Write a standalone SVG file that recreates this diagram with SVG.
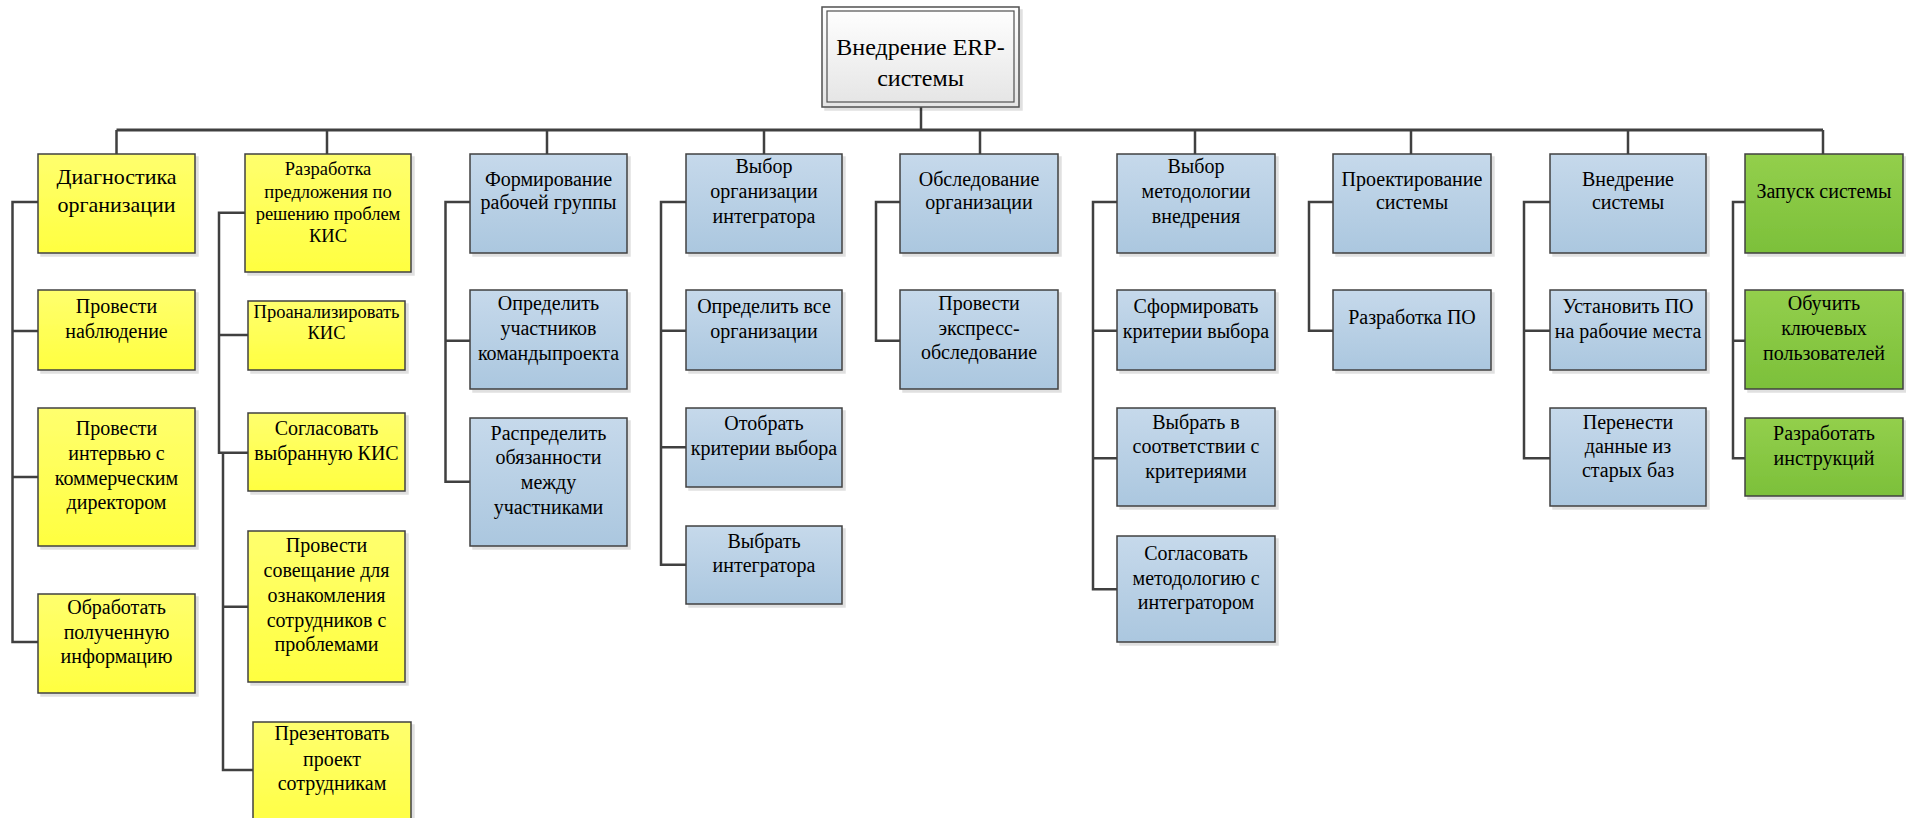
<svg xmlns="http://www.w3.org/2000/svg" width="1906" height="818" viewBox="0 0 1906 818">
<defs>
<linearGradient id="gy" x1="0" y1="0" x2="0" y2="1"><stop offset="0" stop-color="#ffff6e"/><stop offset="1" stop-color="#ffff40"/></linearGradient>
<linearGradient id="gb" x1="0" y1="0" x2="0" y2="1"><stop offset="0" stop-color="#c6d9eb"/><stop offset="1" stop-color="#abc7df"/></linearGradient>
<linearGradient id="gg" x1="0" y1="0" x2="0" y2="1"><stop offset="0" stop-color="#93cf4c"/><stop offset="1" stop-color="#7cc03a"/></linearGradient>
<linearGradient id="gw" x1="0" y1="0" x2="0" y2="1"><stop offset="0" stop-color="#ffffff"/><stop offset="1" stop-color="#e4e4e4"/></linearGradient>
<filter id="sh" x="-5%" y="-5%" width="115%" height="115%"><feOffset in="SourceAlpha" dx="3" dy="3" result="o"/><feFlood flood-color="#000" flood-opacity="0.12"/><feComposite in2="o" operator="in"/><feMerge><feMergeNode/><feMergeNode in="SourceGraphic"/></feMerge></filter>
</defs>
<style>
rect.b{stroke:#404040;stroke-width:1.5;filter:url(#sh)}
.y{fill:url(#gy)} .bl{fill:url(#gb)} .g{fill:url(#gg)}
text{font-family:"Liberation Serif","Times New Roman",serif;font-size:20px;fill:#000;text-anchor:middle}
.s{font-size:18.5px}
.l{font-size:22px}
.r{font-size:24px}
#connectors path{fill:none;stroke:#404040;stroke-width:2.5}
#connectors path.bus{stroke-width:3}
</style>
<g id="connectors">
<path class="bus" d="M116.5 130H1823"/>
<path d="M921 107V130"/>
<path d="M116.5 130V154M327 130V154M547 130V154M764 130V154M980 130V154M1195 130V154M1411 130V154M1628 130V154M1823 130V154"/>
<path d="M38 202H12.5V642H38M12.5 331H38M12.5 477H38"/>
<path d="M245 212.7H219V452.7H248M219 335H248M223 452.7V770H253M223 606.7H248"/>
<path d="M470 202H445.5V481.7H470M445.5 340.7H470"/>
<path d="M686 202H661V564.7H686M661 330.7H686M661 447.3H686"/>
<path d="M900 202H876V340.7H900"/>
<path d="M1117 202H1093V589.3H1117M1093 330.7H1117M1093 458.3H1117"/>
<path d="M1333 202H1309V330.7H1333"/>
<path d="M1550 202H1524V458.3H1550M1524 330.7H1550"/>
<path d="M1745 202H1733V458.3H1745M1733 340.7H1745"/>
</g>
<g id="root">
<rect x="822" y="7" width="197" height="100" fill="url(#gw)" stroke="#505050" stroke-width="1.5" filter="url(#sh)"/>
<rect x="827" y="11" width="187" height="91" fill="none" stroke="#505050" stroke-width="1.2"/>
<text class="r" x="920.5" y="55">Внедрение ERP-</text>
<text class="r" x="920.5" y="85.5">системы</text>
</g>
<g id="n1"><rect class="b y" x="38" y="154" width="157" height="99"/><text class="l" x="116.5" y="184">Диагностика</text><text class="l" x="116.5" y="211.5">организации</text></g>
<g id="n1a"><rect class="b y" x="38" y="290" width="157" height="80"/><text x="116.5" y="313">Провести</text><text x="116.5" y="337.5">наблюдение</text></g>
<g id="n1b"><rect class="b y" x="38" y="408" width="157" height="138"/><text x="116.5" y="435">Провести</text><text x="116.5" y="460">интервью с</text><text x="116.5" y="484.5">коммерческим</text><text x="116.5" y="509">директором</text></g>
<g id="n1c"><rect class="b y" x="38" y="594" width="157" height="99"/><text x="116.5" y="613.5">Обработать</text><text x="116.5" y="638.5">полученную</text><text x="116.5" y="663">информацию</text></g>
<g id="n2"><rect class="b y" x="245" y="154" width="166" height="118"/><text class="s" x="328" y="174.5">Разработка</text><text class="s" x="328" y="197.5">предложения по</text><text class="s" x="328" y="219.5">решению проблем</text><text class="s" x="328" y="241.5">КИС</text></g>
<g id="n2a"><rect class="b y" x="248" y="301" width="157" height="69"/><text class="s" x="326.5" y="318">Проанализировать</text><text class="s" x="326.5" y="339">КИС</text></g>
<g id="n2b"><rect class="b y" x="248" y="413" width="157" height="78"/><text x="326.5" y="435">Согласовать</text><text x="326.5" y="459.5">выбранную КИС</text></g>
<g id="n2c"><rect class="b y" x="248" y="531" width="157" height="151"/><text x="326.5" y="551.5">Провести</text><text x="326.5" y="577">совещание для</text><text x="326.5" y="602">ознакомления</text><text x="326.5" y="626.5">сотрудников с</text><text x="326.5" y="651">проблемами</text></g>
<g id="n2d"><rect class="b y" x="253" y="722" width="158" height="115"/><text x="332" y="740">Презентовать</text><text x="332" y="765.5">проект</text><text x="332" y="790">сотрудникам</text></g>
<g id="n3"><rect class="b bl" x="470" y="154" width="157" height="99"/><text x="548.5" y="185.5">Формирование</text><text x="548.5" y="209">рабочей группы</text></g>
<g id="n3a"><rect class="b bl" x="470" y="290" width="157" height="99"/><text x="548.5" y="310">Определить</text><text x="548.5" y="335">участников</text><text x="548.5" y="360">командыпроекта</text></g>
<g id="n3b"><rect class="b bl" x="470" y="418" width="157" height="128"/><text x="548.5" y="440">Распределить</text><text x="548.5" y="464">обязанности</text><text x="548.5" y="489">между</text><text x="548.5" y="514">участниками</text></g>
<g id="n4"><rect class="b bl" x="686" y="154" width="156" height="99"/><text x="764" y="172.5">Выбор</text><text x="764" y="197.5">организации</text><text x="764" y="222.5">интегратора</text></g>
<g id="n4a"><rect class="b bl" x="686" y="290" width="156" height="80"/><text x="764" y="313">Определить все</text><text x="764" y="338">организации</text></g>
<g id="n4b"><rect class="b bl" x="686" y="408" width="156" height="79"/><text x="764" y="430">Отобрать</text><text x="764" y="455">критерии выбора</text></g>
<g id="n4c"><rect class="b bl" x="686" y="526" width="156" height="78"/><text x="764" y="547.5">Выбрать</text><text x="764" y="571.5">интегратора</text></g>
<g id="n5"><rect class="b bl" x="900" y="154" width="158" height="99"/><text x="979" y="185.5">Обследование</text><text x="979" y="209">организации</text></g>
<g id="n5a"><rect class="b bl" x="900" y="290" width="158" height="99"/><text x="979" y="310">Провести</text><text x="979" y="335">экспресс-</text><text x="979" y="359">обследование</text></g>
<g id="n6"><rect class="b bl" x="1117" y="154" width="158" height="99"/><text x="1196" y="172.5">Выбор</text><text x="1196" y="197.5">методологии</text><text x="1196" y="222.5">внедрения</text></g>
<g id="n6a"><rect class="b bl" x="1117" y="290" width="158" height="80"/><text x="1196" y="313">Сформировать</text><text x="1196" y="338">критерии выбора</text></g>
<g id="n6b"><rect class="b bl" x="1117" y="408" width="158" height="98"/><text x="1196" y="428.5">Выбрать в</text><text x="1196" y="452.5">соответствии с</text><text x="1196" y="477.5">критериями</text></g>
<g id="n6c"><rect class="b bl" x="1117" y="536" width="158" height="106"/><text x="1196" y="560">Согласовать</text><text x="1196" y="585">методологию с</text><text x="1196" y="609">интегратором</text></g>
<g id="n7"><rect class="b bl" x="1333" y="154" width="158" height="99"/><text x="1412" y="185.5">Проектирование</text><text x="1412" y="209">системы</text></g>
<g id="n7a"><rect class="b bl" x="1333" y="290" width="158" height="80"/><text x="1412" y="324">Разработка ПО</text></g>
<g id="n8"><rect class="b bl" x="1550" y="154" width="156" height="99"/><text x="1628" y="185.5">Внедрение</text><text x="1628" y="209">системы</text></g>
<g id="n8a"><rect class="b bl" x="1550" y="290" width="156" height="80"/><text x="1628" y="313">Установить ПО</text><text x="1628" y="338">на рабочие места</text></g>
<g id="n8b"><rect class="b bl" x="1550" y="408" width="156" height="98"/><text x="1628" y="428.5">Перенести</text><text x="1628" y="452.5">данные из</text><text x="1628" y="477">старых баз</text></g>
<g id="n9"><rect class="b g" x="1745" y="154" width="158" height="99"/><text x="1824" y="198">Запуск системы</text></g>
<g id="n9a"><rect class="b g" x="1745" y="290" width="158" height="99"/><text x="1824" y="310">Обучить</text><text x="1824" y="335">ключевых</text><text x="1824" y="360">пользователей</text></g>
<g id="n9b"><rect class="b g" x="1745" y="418" width="158" height="78"/><text x="1824" y="440">Разработать</text><text x="1824" y="465">инструкций</text></g>
</svg>
